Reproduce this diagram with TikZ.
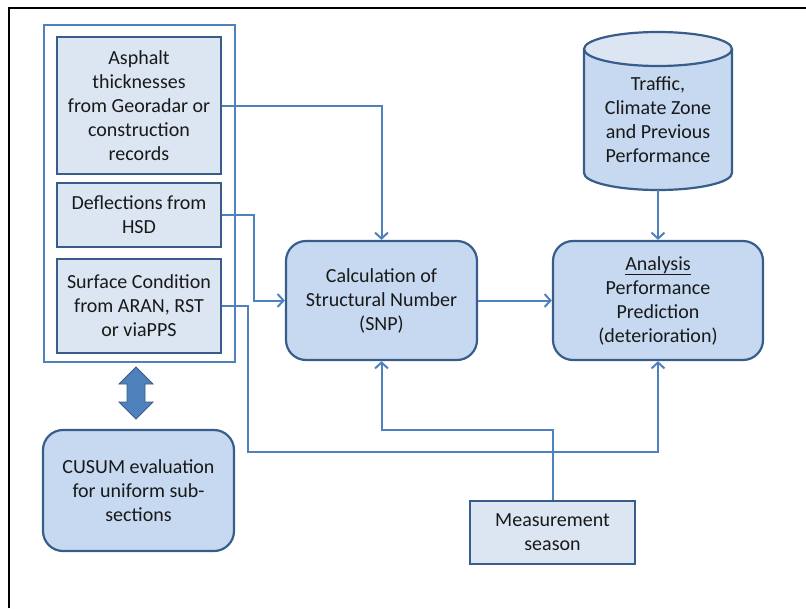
\documentclass[tikz,border=0pt]{standalone}
\usepackage{fontspec}
\setmainfont{Carlito}
\usetikzlibrary{arrows.meta}
\definecolor{randblau}{HTML}{385D8A}
\definecolor{linienblau}{HTML}{4F81BD}
\definecolor{hellblau}{HTML}{DCE6F2}
\definecolor{mittelblau}{HTML}{C6D9F1}
\begin{document}
\begin{tikzpicture}[x=1pt, y=-1pt,
    font=\fontsize{20}{24}\selectfont,
    kasten/.style={draw=randblau, line width=2.2pt, fill=hellblau, align=center, inner sep=2pt, text=black!90},
    rundkasten/.style={kasten, fill=mittelblau, rounded corners=20pt},
    pfeil/.style={draw=linienblau, line width=2pt, -{Straight Barb[length=6pt,width=13pt]}},
    linie/.style={draw=linienblau, line width=2pt}]
    \useasboundingbox (0,0) rectangle (806,608);

    % Rahmen
    \draw[line width=2.5pt] (9,608) -- (9,8) -- (806,8);

    % Eingangsdaten
    \draw[linie] (44,25) rectangle (235,362);
    \node[kasten, minimum width=164pt, minimum height=137pt] (asphalt) at (139,105.5)
        {Asphalt\\thicknesses\\from Georadar or\\construction\\records};
    \node[kasten, minimum width=164pt, minimum height=64pt] (defl) at (139,215)
        {Deflections from\\HSD};
    \node[kasten, minimum width=164pt, minimum height=94pt] (surface) at (139,306)
        {Surface Condition\\from ARAN, RST\\or viaPPS};

    % Doppelpfeil
    \draw[fill=linienblau, draw=randblau, line width=0.8pt]
        (136,367) -- (153,384) -- (145,384) -- (145,402) -- (153,402) -- (136,419)
        -- (119,402) -- (127,402) -- (127,384) -- (119,384) -- cycle;
    \node[rundkasten, minimum width=191pt, minimum height=121pt] (cusum) at (138.5,490.5)
        {CUSUM evaluation\\for uniform sub-\\sections};

    % Berechnung und Analyse
    \node[rundkasten, minimum width=191pt, minimum height=119pt] (snp) at (381.5,300.5)
        {Calculation of\\Structural Number\\(SNP)};
    \node[rundkasten, minimum width=210pt, minimum height=119pt] (analysis) at (658,300.5)
        {\underline{Analysis}\\Performance\\Prediction\\(deterioration)};

    % Datenbank (Zylinder)
    \fill[mittelblau] (584,49) -- (584,173)
        arc[start angle=180, end angle=360, x radius=74pt, y radius=17pt] -- (732,49) -- cycle;
    \draw[randblau, line width=2.2pt] (584,49) -- (584,173)
        arc[start angle=180, end angle=360, x radius=74pt, y radius=17pt] -- (732,49);
    \draw[randblau, line width=2.2pt, fill=hellblau] (658,49) ellipse[x radius=74pt, y radius=17pt];
    \node[minimum width=148pt, minimum height=140pt, align=center, text=black!90] (daten) at (658,120)
        {Traffic,\\Climate Zone\\and Previous\\Performance};

    \node[kasten, minimum width=165pt, minimum height=63pt] (season) at (552.5,532.5)
        {Measurement\\season};

    % Verbindungen
    \coordinate (knick) at (248,452);
    \draw[pfeil] (asphalt.east) -| (snp.north);
    \draw[pfeil] (defl.east) -- ++(32,0) |- (snp.west);
    \draw[pfeil] (surface.east) -| (knick) -| (analysis.south);
    \draw[pfeil] (season.north) -- ++(0,-70) -| (snp.south);
    \draw[pfeil] (snp.east) -- (analysis.west);
    \draw[pfeil] (daten.south) -- (analysis.north);
\end{tikzpicture}
\end{document}
